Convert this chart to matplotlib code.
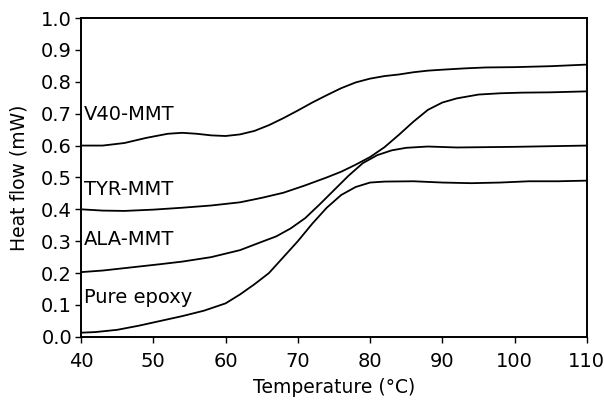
import matplotlib
matplotlib.use("Agg")
import matplotlib.pyplot as plt

plt.rcParams['font.family'] = ['DejaVu Sans']

v40_x = [40, 43, 46, 49, 52, 54, 56, 58, 60, 62, 64, 66, 68, 70, 72, 74, 76, 78, 80, 82, 84, 86, 88, 90, 93, 96, 100, 105, 110]
v40_y = [0.600, 0.600, 0.608, 0.624, 0.637, 0.640, 0.637, 0.632, 0.630, 0.635, 0.646, 0.664, 0.686, 0.710, 0.735, 0.758, 0.780, 0.798, 0.810, 0.818, 0.823, 0.830, 0.835, 0.838, 0.842, 0.845, 0.846, 0.849, 0.854]

tyr_x = [40, 43, 46, 50, 54, 58, 62, 65, 68, 71, 74, 76, 78, 80, 82, 84, 86, 88, 90, 92, 95, 98, 101, 105, 110]
tyr_y = [0.400, 0.396, 0.395, 0.399, 0.405, 0.412, 0.422, 0.436, 0.452, 0.475, 0.500, 0.518, 0.540, 0.564, 0.595, 0.634, 0.675, 0.712, 0.735, 0.748, 0.760, 0.764, 0.766, 0.767, 0.770]

ala_x = [40, 43, 47, 51, 54, 58, 62, 65, 67, 69, 71, 73, 75, 77, 79, 81, 83, 85, 88, 92, 96, 100, 105, 110]
ala_y = [0.203, 0.208, 0.218, 0.228, 0.236, 0.250, 0.272, 0.298, 0.315, 0.340, 0.372, 0.415, 0.460, 0.505, 0.545, 0.570, 0.585, 0.593, 0.597, 0.594, 0.595, 0.596, 0.598, 0.600]

pure_x = [40, 42, 45, 48, 51, 54, 57, 60, 62, 64, 66, 68, 70, 72, 74, 76, 78, 80, 82, 86, 90, 94, 98, 102, 106, 110]
pure_y = [0.013, 0.015, 0.022, 0.035, 0.050, 0.065, 0.082, 0.105, 0.133, 0.165, 0.200, 0.250, 0.300, 0.355, 0.405, 0.445, 0.470, 0.484, 0.487, 0.488, 0.484, 0.482, 0.484, 0.488, 0.488, 0.490]

labels = ["V40-MMT", "TYR-MMT", "ALA-MMT", "Pure epoxy"]
label_y = [0.698, 0.462, 0.304, 0.124]
x_ticks = [40, 50, 60, 70, 80, 90, 100, 110]
y_ticks = [0.0, 0.1, 0.2, 0.3, 0.4, 0.5, 0.6, 0.7, 0.8, 0.9, 1.0]

fig = plt.figure(figsize=(6.05, 4.01), dpi=100)
ax = fig.add_axes([0.134, 0.160, 0.836, 0.795])

for xs, ys in [(v40_x, v40_y), (tyr_x, tyr_y), (ala_x, ala_y), (pure_x, pure_y)]:
    ax.plot(xs, ys, color='black', lw=1.3, solid_joinstyle='round')

for lab, ly in zip(labels, label_y):
    ax.text(40.4, ly, lab, fontsize=14, va='center', ha='left')

ax.set_xlim(40, 110)
ax.set_ylim(0, 1.0)
ax.set_xticks(x_ticks)
ax.set_yticks(y_ticks)
ax.set_xticklabels([str(t) for t in x_ticks])
ax.set_yticklabels([f"{t:.1f}" for t in y_ticks])
ax.tick_params(direction='out', length=4, width=1, labelsize=14, colors='black')
ax.tick_params(axis='x', pad=7)
ax.tick_params(axis='y', pad=2.5)
for s in ax.spines.values():
    s.set_linewidth(1.4)
ax.set_xlabel("Temperature (°C)", fontsize=13.5, labelpad=5)
ax.set_ylabel("Heat flow (mW)", fontsize=13.5, labelpad=9)

fig.savefig("out.png", dpi=100)
